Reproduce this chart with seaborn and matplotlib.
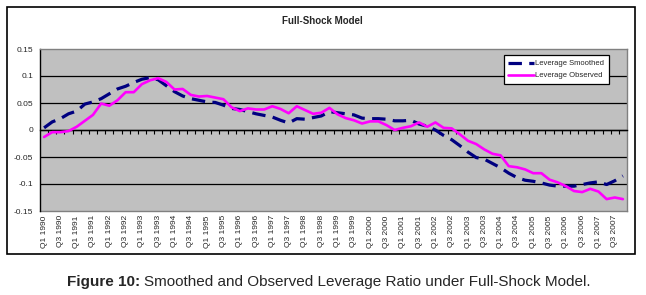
import numpy as np
import pandas as pd
from matplotlib import pyplot as plt
from matplotlib.patches import Rectangle
import seaborn as sns

# quarterly categories, Q1 1990 .. Q4 2007
quarters = [f"Q{q} {y}" for y in range(1990, 2008) for q in (1, 2, 3, 4)]

leverage_smoothed = [
    0.004, 0.015, 0.021, 0.030, 0.035, 0.048, 0.052, 0.058, 0.067, 0.076,
    0.081, 0.088, 0.094, 0.097, 0.093, 0.082, 0.071, 0.063, 0.058, 0.055,
    0.052, 0.051, 0.046, 0.040, 0.038, 0.034, 0.030, 0.027, 0.024, 0.018,
    0.013, 0.021, 0.020, 0.023, 0.026, 0.034, 0.032, 0.030, 0.028, 0.022,
    0.021, 0.021, 0.020, 0.017, 0.017, 0.018, 0.011, 0.007, 0.000, -0.010,
    -0.018, -0.029, -0.041, -0.051, -0.054, -0.062, -0.070, -0.080, -0.088, -0.093,
    -0.095, -0.098, -0.102, -0.104, -0.104, -0.104, -0.101, -0.098, -0.096, -0.101,
    -0.094, -0.085,
]

leverage_observed = [
    -0.013, -0.004, -0.004, -0.002, 0.006, 0.017, 0.028, 0.049, 0.045, 0.055,
    0.070, 0.070, 0.085, 0.092, 0.096, 0.089, 0.075, 0.076, 0.065, 0.062,
    0.063, 0.060, 0.057, 0.042, 0.035, 0.040, 0.038, 0.038, 0.044, 0.039,
    0.031, 0.044, 0.037, 0.030, 0.032, 0.041, 0.029, 0.022, 0.018, 0.012,
    0.016, 0.016, 0.009, 0.000, 0.004, 0.007, 0.014, 0.006, 0.014, 0.004,
    0.003, -0.008, -0.020, -0.026, -0.036, -0.044, -0.047, -0.067, -0.069, -0.073,
    -0.080, -0.080, -0.092, -0.097, -0.104, -0.113, -0.115, -0.109, -0.114, -0.128,
    -0.125, -0.128,
]

y_ticks = [-0.15, -0.1, -0.05, 0, 0.05, 0.1, 0.15]
y_tick_labels = ["-0.15", "-0.1", "-0.05", "0", "0.05", "0.1", "0.15"]

sns.set_theme(style="white")
plt.rcParams['font.family'] = ['Liberation Sans', 'DejaVu Sans']

W, H = 646, 295
fig = plt.figure(figsize=(W / 100, H / 100), dpi=100)

# chart frame
fig.patches.append(Rectangle((7 / W, 1 - 254 / H), (635 - 7) / W, (254 - 7) / H,
                             transform=fig.transFigure, fill=False, ec='black', lw=1.2))

ax = fig.add_axes([40 / W, 1 - 211 / H, (627 - 40) / W, (211 - 49) / H])
ax.set_facecolor('#C0C0C0')

df = pd.DataFrame({
    'pos': np.arange(len(quarters)),
    'quarter': quarters,
    'Leverage Smoothed': leverage_smoothed,
    'Leverage Observed': leverage_observed,
})

# horizontal gridlines (inner ticks only)
for yv in y_ticks[1:-1]:
    ax.axhline(yv, color='black', lw=0.9, zorder=1)

sns.lineplot(data=df, x='pos', y='Leverage Smoothed', ax=ax, color='#000080', lw=2.3,
             linestyle=(0, (4.2, 2.3)), label='Leverage Smoothed', zorder=3)
sns.lineplot(data=df, x='pos', y='Leverage Observed', ax=ax, color='#FF00FF', lw=1.9,
             label='Leverage Observed', zorder=4)

ax.set_xlim(-0.5, len(quarters) - 0.5)
ax.set_ylim(-0.15, 0.15)
ax.set_xlabel('')
ax.set_ylabel('')

ax.set_yticks(y_ticks, labels=y_tick_labels)
ax.tick_params(axis='y', length=3, direction='out', labelsize=6, pad=2, color='black', width=0.8)

# category axis crosses at zero
ax.spines['bottom'].set_position(('data', 0))
ax.spines['bottom'].set_color('black')
ax.spines['bottom'].set_linewidth(1)
ax.set_xticks([])
ax.set_xticks(np.arange(0.5, len(quarters) - 1, 1), minor=True)
ax.tick_params(axis='x', which='minor', bottom=True, length=3, direction='out', width=0.8, color='black')

ax.spines['left'].set_color('black')
ax.spines['left'].set_linewidth(1)
for s in ['top', 'right']:
    ax.spines[s].set_color('#808080')
    ax.spines[s].set_linewidth(1)

# labels at the bottom of the plot area
sec = ax.secondary_xaxis('bottom')
sec.set_xticks(df['pos'][::2], labels=df['quarter'][::2])
sec.tick_params(length=0, labelsize=6, rotation=90, pad=3)
sec.spines['bottom'].set_color('#808080')
sec.spines['bottom'].set_linewidth(1)

leg = ax.legend(loc='upper right', bbox_to_anchor=(0.969, 0.96), fontsize=5.5,
                frameon=True, fancybox=False, edgecolor='black', framealpha=1,
                handlelength=3.4, handletextpad=0.1, borderpad=0.6, labelspacing=0.6,
                borderaxespad=0)
leg.get_frame().set_linewidth(0.9)

fig.text(322 / W, 1 - 21 / H, 'Full-Shock Model', ha='center', va='center',
         fontsize=7, fontweight='bold')

# caption: bold lead + normal text
renderer = fig.canvas.get_renderer()
t1 = fig.text(67 / W, 1 - 282 / H, 'Figure 10:', ha='left', va='center',
              fontsize=11, fontweight='bold')
bb = t1.get_window_extent(renderer)
fig.text(bb.x1 / W + 4 / W, 1 - 282 / H, 'Smoothed and Observed Leverage Ratio under Full-Shock Model.',
         ha='left', va='center', fontsize=11)

fig.savefig('out.png', dpi=100)
